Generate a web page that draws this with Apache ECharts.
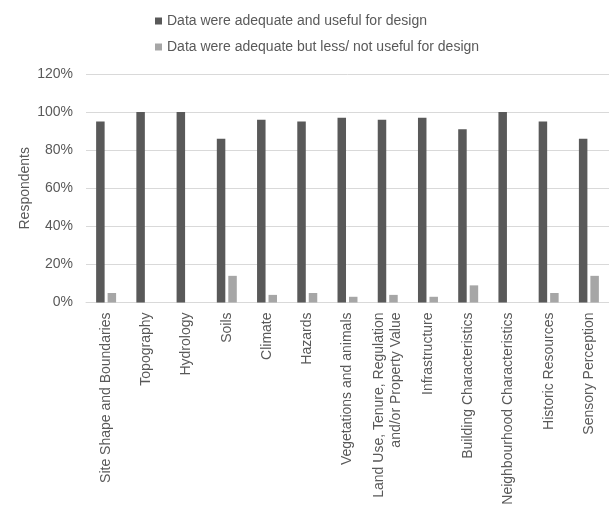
<!DOCTYPE html>
<html>
<head>
<meta charset="utf-8">
<script src="https://cdn.jsdelivr.net/npm/echarts@6/dist/echarts.min.js"></script>
<style>
html,body{margin:0;padding:0;background:#fff;}
#chart{width:609px;height:508px;}
</style>
</head>
<body>
<div id="chart"></div>
<script>
var categories = [
  'Site Shape and Boundaries', 'Topography', 'Hydrology', 'Soils', 'Climate', 'Hazards',
  'Vegetations and animals', 'Land Use, Tenure, Regulation\nand/or Property Value',
  'Infrastructure', 'Building Characteristics', 'Neighbourhood Characteristics',
  'Historic Resources', 'Sensory Perception'
];
var seriesNames = [
  'Data were adequate and useful for design',
  'Data were adequate but less/ not useful for design'
];
var usefulValues = [95, 100, 100, 86, 96, 95, 97, 96, 97, 91, 100, 95, 86];
var lessUsefulValues = [5, 0, 0, 14, 4, 5, 3, 4, 3, 9, 0, 5, 14];
var yTicks = [0, 20, 40, 60, 80, 100, 120];

var textColor = '#595959';
var font = 'Liberation Sans';
var chart = echarts.init(document.getElementById('chart'), null, {renderer: 'canvas'});
chart.setOption({
  animation: false,
  backgroundColor: '#fff',
  textStyle: {fontFamily: font, color: textColor},
  legend: {
    orient: 'vertical',
    left: 150,
    top: 9,
    itemGap: 12,
    itemWidth: 7,
    itemHeight: 7,
    icon: 'rect',
    textStyle: {fontFamily: font, fontSize: 14, color: textColor},
    data: seriesNames
  },
  grid: {left: 86, top: 74, width: 525, height: 228.5, containLabel: false},
  xAxis: {
    type: 'category',
    data: categories,
    axisLine: {lineStyle: {color: '#d9d9d9', width: 1}},
    axisTick: {show: false},
    axisLabel: {
      rotate: 90,
      interval: 0,
      margin: 10,
      fontFamily: font,
      fontSize: 14,
      color: textColor,
      lineHeight: 17,
      align: 'right',
      verticalAlign: 'middle'
    }
  },
  yAxis: {
    type: 'value',
    min: yTicks[0],
    max: yTicks[yTicks.length - 1],
    interval: 20,
    name: 'Respondents',
    nameLocation: 'middle',
    nameGap: 54,
    nameMoveOverlap: false,
    nameRotate: 90,
    nameTextStyle: {fontFamily: font, fontSize: 14, color: textColor},
    axisLine: {show: false},
    axisTick: {show: false},
    axisLabel: {formatter: '{value}%', margin: 13, fontFamily: font, fontSize: 14, color: textColor},
    splitLine: {lineStyle: {color: '#d9d9d9', width: 1}}
  },
  series: [
    {
      name: seriesNames[0],
      type: 'bar',
      data: usefulValues,
      barWidth: 8.5,
      barGap: '35%',
      itemStyle: {color: '#595959'}
    },
    {
      name: seriesNames[1],
      type: 'bar',
      data: lessUsefulValues,
      barWidth: 8.5,
      itemStyle: {color: '#a6a6a6'}
    }
  ]
});
</script>
</body>
</html>
